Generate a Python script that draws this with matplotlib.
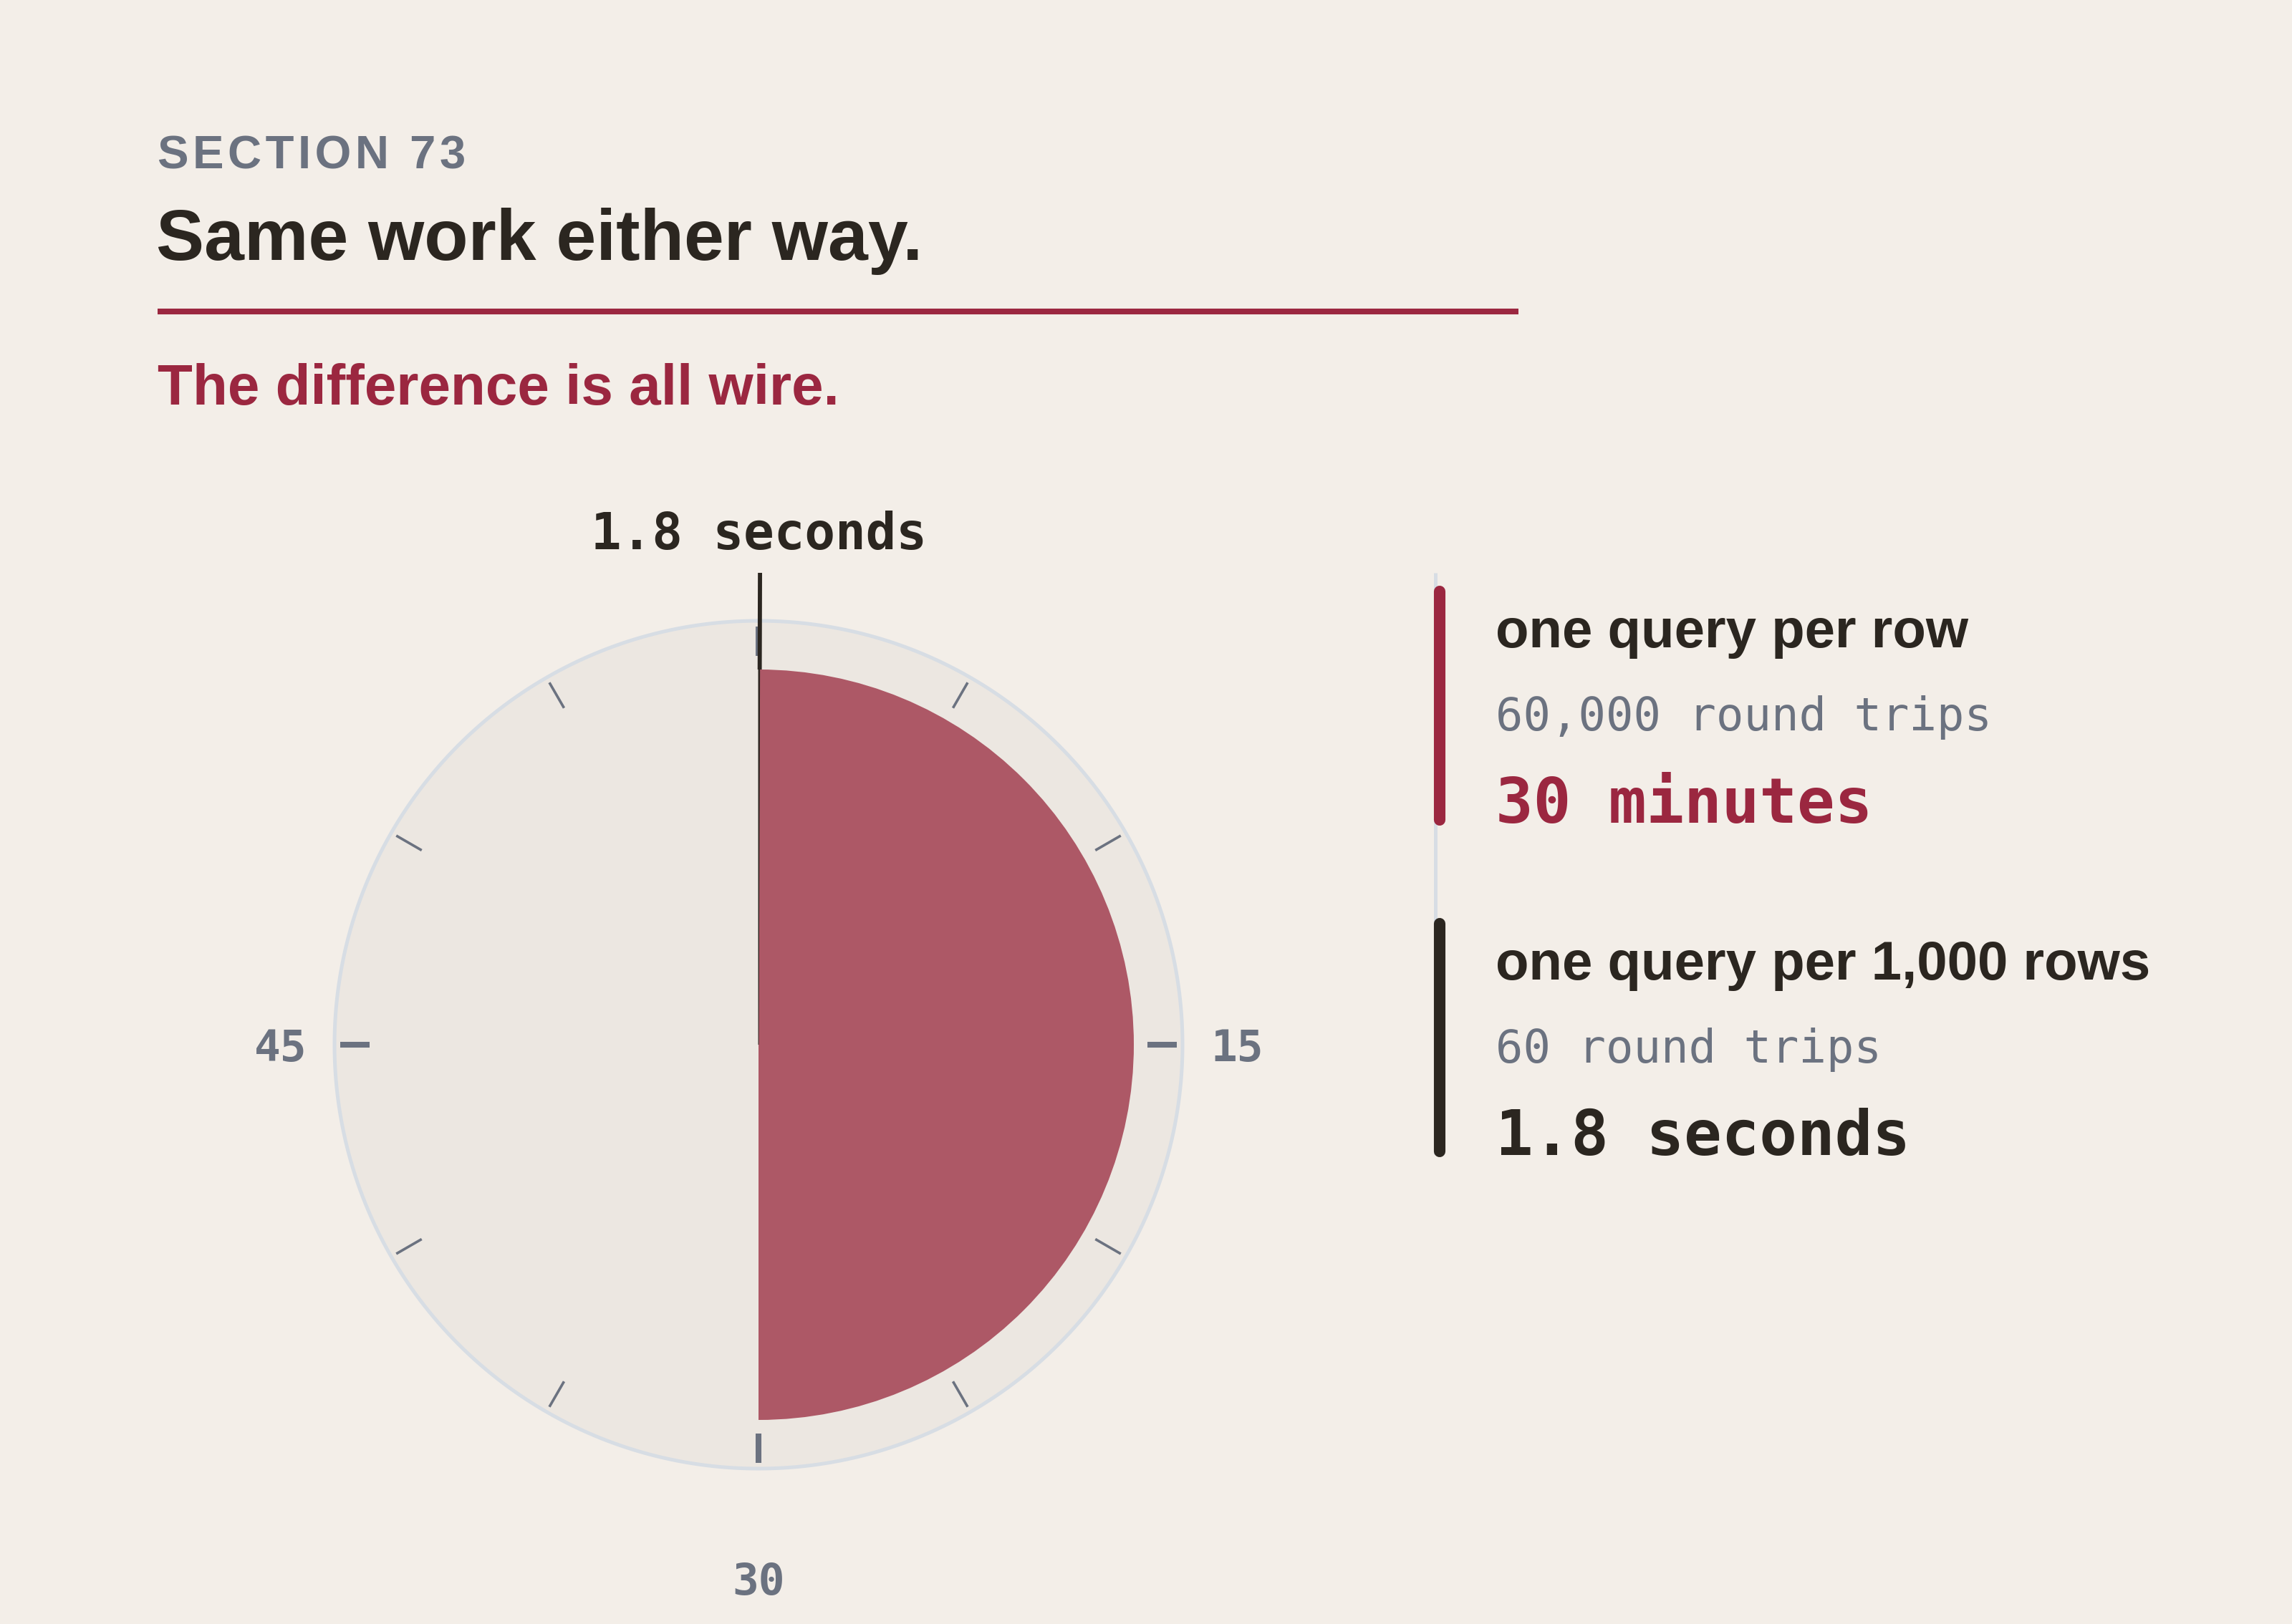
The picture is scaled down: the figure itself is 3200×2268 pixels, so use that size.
import matplotlib.pyplot as plt
import numpy as np

# colours
BG = '#F3EEE8'
FACE = '#ECE7E1'
RIM = '#D7DDE4'
INK = '#2B2620'
GRAY = '#6B7280'
RED = '#9B2740'
WEDGE = '#AD5866'

SANS = ['Liberation Sans', 'DejaVu Sans']
MONO = ['DejaVu Sans Mono']

# data
dial_minutes = 60
strategies = ['one query per row', 'one query per 1,000 rows']
round_trips = [60000, 60]
durations_min = [30, 1.8 / 60]
duration_labels = ['30 minutes', '1.8 seconds']
strategy_colors = [RED, INK]
tick_minutes = [0, 5, 10, 15, 20, 25, 30, 35, 40, 45, 50, 55]
labelled_minutes = [15, 30, 45]

W, H = 3200, 2268
fig = plt.figure(figsize=(16, 11.34), dpi=200, facecolor=BG)

# ---- clock (polar axes, units = pixels) ----
cx, cy = 1059, 1459
R = 760
pax = fig.add_axes([(cx - R) / W, (H - cy - R) / H, 2 * R / W, 2 * R / H],
                   projection='polar')
pax.set_theta_zero_location('N')
pax.set_theta_direction(-1)
pax.set_ylim(0, R)
pax.axis('off')

r_face, r_wedge = 592, 524
r_tick_in, r_tick_out = 543, 584
r_needle = 659

def ang(m):
    return m / dial_minutes * 2 * np.pi

circle = np.linspace(0, 2 * np.pi, 721)
pax.fill_between(circle, 0, r_face, color=FACE, lw=0, zorder=1)
pax.plot(circle, np.full_like(circle, r_face), color=RIM, lw=1.8, zorder=2)

# slow strategy wedge, fast strategy sliver + needle
pax.bar(0, r_wedge, width=ang(durations_min[0]), align='edge',
        color=WEDGE, lw=0, zorder=3)
pax.bar(0, r_wedge, width=ang(durations_min[1]), align='edge',
        color=INK, edgecolor=INK, lw=0.35, zorder=4)

for m in tick_minutes:
    major = m % 15 == 0
    pax.plot([ang(m), ang(m)], [r_tick_in, r_tick_out], color=GRAY,
             lw=2.9 if major else 1.3, solid_capstyle='butt', zorder=3)

pax.plot([ang(durations_min[1])] * 2, [r_wedge, r_needle], color=INK,
         lw=2.1, solid_capstyle='butt', zorder=5)

label_r = {15: 668, 30: 745, 45: 667}
for m in labelled_minutes:
    pax.text(ang(m), label_r[m], str(m), ha='center', va='center_baseline',
             family=MONO, weight='bold', fontsize=22, color=GRAY, clip_on=False)

pax.text(0, 692, duration_labels[1], ha='center', va='baseline',
         family=MONO, weight='bold', fontsize=25.5, color=INK, clip_on=False)

# ---- overlay in pixel coordinates ----
ax = fig.add_axes([0, 0, 1, 1])
ax.set_xlim(0, W)
ax.set_ylim(H, 0)
ax.axis('off')

ax.text(220, 235, '\u200a'.join('SECTION 73'), family=SANS, weight='bold',
        fontsize=23.5, color=GRAY, va='baseline')
ax.text(218, 363, 'Same work either way.', family=SANS, weight='bold',
        fontsize=36.2, color=INK, va='baseline')
ax.plot([220, 2120], [435, 435], color=RED, lw=2.9, solid_capstyle='butt')
ax.text(220, 565, 'The difference is all wire.', family=SANS, weight='bold',
        fontsize=28.8, color=RED, va='baseline')

# legend
ax.plot([2004, 2004], [800, 1612], color=RIM, lw=1.8, solid_capstyle='butt')
block_top = [826, 1290]
block_bot = [1145, 1608]
tx = 2088
for i, name in enumerate(strategies):
    c = strategy_colors[i]
    ax.plot([2010, 2010], [block_top[i], block_bot[i]], color=c, lw=5.8,
            solid_capstyle='round')
    y0 = block_top[i]
    ax.text(tx, y0 + 78, name, family=SANS, weight='bold', fontsize=27.4,
            color=INK, va='baseline')
    ax.text(tx, y0 + 194, f'{round_trips[i]:,} round trips', family=MONO,
            fontsize=23, color=GRAY, va='baseline')
    ax.text(tx, y0 + 323, duration_labels[i], family=MONO, weight='bold',
            fontsize=31.5, color=c, va='baseline')

fig.savefig('out.png', dpi=200, facecolor=BG)
